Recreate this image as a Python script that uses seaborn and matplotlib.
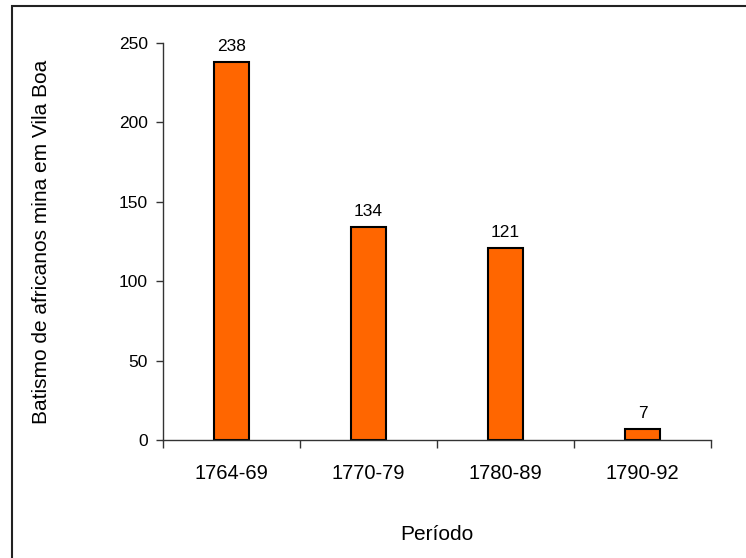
import matplotlib
matplotlib.use("Agg")
from matplotlib import pyplot as plt
from matplotlib.patches import Rectangle
import seaborn as sns
import pandas as pd

periods = ["1764-69", "1770-79", "1780-89", "1790-92"]
baptisms = [238, 134, 121, 7]

sns.set_style("white")
plt.rcParams['font.family'] = ['Liberation Sans', 'DejaVu Sans']
plt.rcParams.update({"text.color": "black", "axes.labelcolor": "black",
                     "xtick.labelcolor": "black", "ytick.labelcolor": "black"})

df = pd.DataFrame({"periodo": periods, "batismos": baptisms})

fig = plt.figure(figsize=(7.46, 5.58), dpi=100)
ax = fig.add_axes([163 / 746, 118 / 558, 548 / 746, 397 / 558])

sns.barplot(data=df, x="periodo", y="batismos", color="#FF6600", width=0.25,
            edgecolor="black", linewidth=1.5, saturation=1, ax=ax)

for i, v in enumerate(baptisms):
    ax.text(i, v + 5, str(v), ha="center", va="bottom", fontsize=12.5, color="black")

ax.set_xlim(-0.5, 3.5)
ax.set_ylim(0, 250)
ax.set_yticks([0, 50, 100, 150, 200, 250])
# ticks sit between the categories, labels under the bars
ax.set_xticks([-0.5, 0.5, 1.5, 2.5, 3.5])
ax.set_xticklabels([])
ax.set_xticks(range(4), minor=True)
ax.set_xticklabels(periods, minor=True, fontsize=14.5)
ax.tick_params(axis="x", which="major", direction="out", length=6, width=1, color="#333333", bottom=True)
ax.tick_params(axis="x", which="minor", length=0, pad=17, labelcolor="black")
ax.tick_params(axis="y", direction="out", length=5, width=1, color="#333333", left=True,
               labelsize=12.5, pad=6, labelcolor="black")

for s in ["top", "right"]:
    ax.spines[s].set_visible(False)
for s in ["left", "bottom"]:
    ax.spines[s].set_color("#333333")
    ax.spines[s].set_linewidth(1)

ax.set_xlabel("Período", fontsize=15, va="center", color="black")
ax.xaxis.set_label_coords(0.5, (440 - 535) / 397)
ax.set_ylabel("Batismo de africanos mina em Vila Boa", fontsize=15, va="center", color="black")
ax.yaxis.set_label_coords((42 - 163) / 548, 0.5)

fig.patches.append(Rectangle((11.5 / 746, -0.02), 1.0, 1.02 - 6.5 / 558,
                             transform=fig.transFigure, fill=False,
                             edgecolor="#222222", linewidth=1.5, clip_on=False))

fig.savefig("out.png", dpi=100)
